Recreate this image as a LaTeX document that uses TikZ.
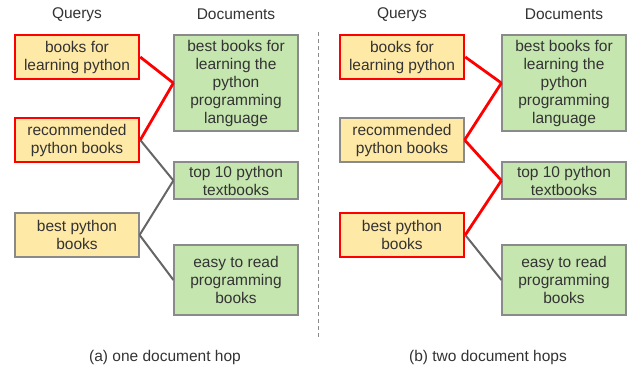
\documentclass[tikz,border=0pt]{standalone}
\usepackage{fontspec}
\setmainfont{Liberation Sans}
\usepackage{tikz}
\usetikzlibrary{positioning}
\definecolor{qfill}{HTML}{FFE9A6}
\definecolor{dfill}{HTML}{C6E6B0}
\definecolor{bord}{HTML}{8A8A8A}
\definecolor{ink}{HTML}{333333}
\definecolor{lnkgray}{HTML}{666666}
\definecolor{hopred}{HTML}{FF0000}

\begin{document}
\begin{tikzpicture}[
  x=1pt,y=-1pt,
  every node/.style={font=\fontsize{15.5}{18}\selectfont,text=ink},
  qry/.style={draw=bord,line width=1.2pt,fill=qfill,minimum width=124pt,minimum height=44pt,inner sep=0pt,align=center},
  doc/.style={draw=bord,line width=1.2pt,fill=dfill,minimum width=124pt,inner sep=0pt,align=center},
  hit/.style={draw=hopred,line width=2.5pt},
  lnk/.style={draw=lnkgray,line width=2pt},
  hop/.style={draw=hopred,line width=2.8pt}
    ]
    \useasboundingbox (0,0) rectangle (636,373);
    % (a) one document hop
    \node at (77,14.5) (qta) {Querys};
    \node at (236,14.5) (dta) {Documents};
    \node[qry,hit] at (77,57) (qa1) {books for\\learning python};
    \node[qry,hit] at (77,140) (qa2) {recommended\\python books};
    \node[qry] at (77,235) (qa3) {best python\\books};
    \node[doc,minimum height=96pt] at (236,83) (da1) {best books for\\learning the\\python\\programming\\language};
    \node[doc,minimum height=37pt] at (236,180.5) (da2) {top 10 python\\textbooks};
    \node[doc,minimum height=70pt] at (236,280) (da3) {easy to read\\programming\\books};
    \path (qa2.east) edge[lnk] (da2.west)
    (qa3.east) edge[lnk] (da2.west)
    (qa3.east) edge[lnk] (da3.west)
    (qa1.east) edge[hop] (da1.west)
    (qa2.east) edge[hop] (da1.west);
    \node at (165,357.5) (capa) {(a) one document hop};
    % separator
    \coordinate (stop) at (318.5,32);
    \coordinate (sbot) at (318.5,338);
    \draw[bord,line width=1.3pt,dash pattern=on 4pt off 3pt] (stop) -- (sbot);
    % (b) two document hops
    \node at (402,14.5) (qtb) {Querys};
    \node at (564,14.5) (dtb) {Documents};
    \node[qry,hit] at (402,57) (qb1) {books for\\learning python};
    \node[qry] at (402,140) (qb2) {recommended\\python books};
    \node[qry,hit] at (402,235) (qb3) {best python\\books};
    \node[doc,minimum height=96pt] at (564,83) (db1) {best books for\\learning the\\python\\programming\\language};
    \node[doc,minimum height=37pt] at (564,180.5) (db2) {top 10 python\\textbooks};
    \node[doc,minimum height=70pt] at (564,280) (db3) {easy to read\\programming\\books};
    \path (qb3.east) edge[lnk] (db3.west)
    (qb1.east) edge[hop] (db1.west)
    (qb2.east) edge[hop] (db1.west)
    (qb2.east) edge[hop] (db2.west)
    (qb3.east) edge[hop] (db2.west);
    \node at (488,357.5) (capb) {(b) two document hops};
    \end{tikzpicture}
\end{document}
